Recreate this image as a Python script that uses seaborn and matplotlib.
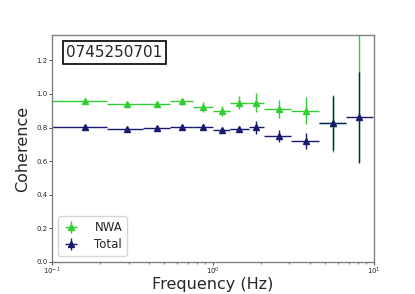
import matplotlib
matplotlib.use("Agg")
import matplotlib.pyplot as plt
import seaborn as sns
import numpy as np

freq = [0.161, 0.293, 0.453, 0.644, 0.867, 1.143, 1.466, 1.87, 2.60, 3.81, 5.58, 8.18]
bin_lo = [0.100, 0.221, 0.370, 0.542, 0.751, 1.000, 1.29, 1.67, 2.09, 3.09, 4.61, 6.76]
bin_hi = [0.221, 0.370, 0.542, 0.751, 1.000, 1.29, 1.67, 2.09, 3.09, 4.61, 6.76, 9.9]

nwa = [0.960, 0.940, 0.938, 0.956, 0.924, 0.898, 0.948, 0.948, 0.912, 0.900, 0.825, 1.45]
nwa_err = [0.010, 0.010, 0.012, 0.020, 0.030, 0.030, 0.040, 0.055, 0.055, 0.080, 0.170, 0.85]

total = [0.805, 0.791, 0.795, 0.805, 0.805, 0.785, 0.791, 0.801, 0.749, 0.719, 0.828, 0.860]
total_err = [0.010, 0.010, 0.010, 0.012, 0.018, 0.015, 0.020, 0.040, 0.035, 0.050, 0.160, 0.270]

sns.set_style("white")
plt.rcParams['font.family'] = ['DejaVu Sans']

fig, ax = plt.subplots(figsize=(4.15, 2.94), dpi=100)
fig.subplots_adjust(left=0.125, right=0.9, bottom=0.11, top=0.88)

f = np.array(freq)
xerr = [f - np.array(bin_lo), np.array(bin_hi) - f]

ax.errorbar(f, nwa, xerr=xerr, yerr=nwa_err, fmt='^', color='limegreen',
            ms=4.5, elinewidth=1.0, capsize=0, label='NWA')
ax.errorbar(f, total, xerr=xerr, yerr=total_err, fmt='^', color='midnightblue',
            ms=4.5, elinewidth=1.0, capsize=0, label='Total')

ax.set_xscale('log')
ax.set_xlim(0.1, 10)
ax.set_ylim(0, 1.35)
ax.set_yticks([0.0, 0.2, 0.4, 0.6, 0.8, 1.0, 1.2])
ax.tick_params(axis='both', which='major', labelsize=5, length=2.5, width=0.6,
               direction='out', bottom=True, left=True, pad=0.8)
ax.tick_params(axis='x', which='major', pad=0.3)
ax.tick_params(axis='x', which='minor', length=1.5, width=0.5, bottom=True)
for s in ax.spines.values():
    s.set_color('gray')
    s.set_linewidth(1.0)

ax.set_xlabel('Frequency (Hz)', fontsize=11.5, labelpad=0)
ax.set_ylabel('Coherence', fontsize=11.5, labelpad=4)

ax.text(0.045, 0.925, '0745250701', transform=ax.transAxes, fontsize=11,
        va='center', ha='left',
        bbox=dict(boxstyle='square,pad=0.25', facecolor='white', edgecolor='black', linewidth=1.2))

ax.legend(loc='lower left', fontsize=8.5, frameon=True, borderpad=0.4,
          handlelength=1.5, handletextpad=1.2, labelspacing=0.35)

fig.savefig('out.png', dpi=100)
